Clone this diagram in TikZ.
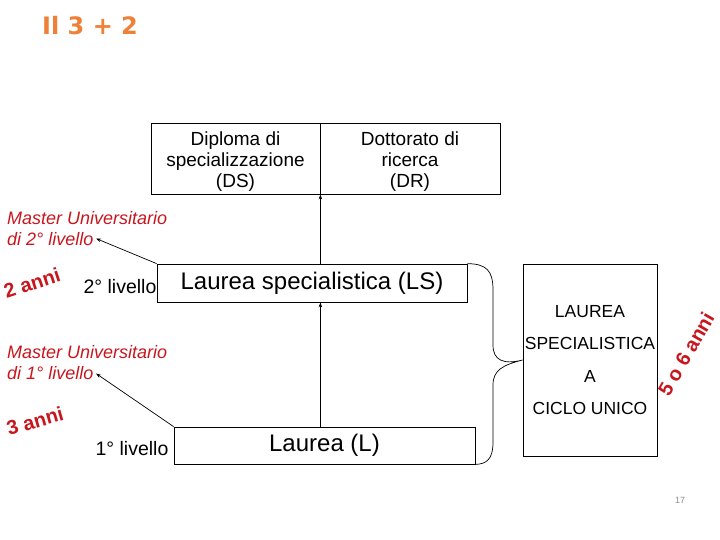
\documentclass[tikz,border=0pt]{standalone}
\usepackage{fontspec}
\setmainfont{Liberation Sans}
\newfontfamily\titlefont{DejaVu Sans}
\usetikzlibrary{arrows.meta}
\definecolor{titleorange}{RGB}{238,128,56}
\definecolor{mred}{RGB}{200,22,30}
\definecolor{pgray}{RGB}{140,140,140}
\tikzset{
  box/.style={draw, line width=0.8pt, inner sep=0pt, align=center},
  mastertext/.style={anchor=base west, inner sep=0pt, align=left, text=mred, font=\fontsize{18}{21}\selectfont\itshape},
  annitext/.style={inner sep=0pt, text=mred, font=\fontsize{20}{24}\selectfont\bfseries},
  livtext/.style={inner sep=0pt, font=\fontsize{19.5}{22}\selectfont},
  conn/.style={line width=0.7pt},
  uparrow/.style={conn, -{Stealth[length=5pt,width=3.5pt]}},
}
\begin{document}
\begin{tikzpicture}[x=1pt,y=-1pt]
\useasboundingbox (0,0) rectangle (720,540);
% title
\node[anchor=base west, inner sep=0pt, text=titleorange, font=\titlefont\bfseries\fontsize{24}{28}\selectfont] (title) at (42,35) {Il 3 + 2};
% top boxes
\node[box, minimum width=169pt, minimum height=71pt] (DS) at (235.5,158.5) {};
\node[box, minimum width=180pt, minimum height=71pt] (DR) at (410,158.5) {};
\node[inner sep=0pt, align=center, font=\fontsize{19}{21}\selectfont] (DStext) at ([yshift=-3pt]DS.center) {Diploma di\\specializzazione\\(DS)};
\node[inner sep=0pt, align=center, font=\fontsize{19}{21}\selectfont] (DRtext) at ([yshift=-3pt]DR.center) {Dottorato di\\ricerca\\(DR)};
\draw[line width=1.8pt] (DS.north east) -- (DS.south east);
% LS and L
\node[box, minimum width=310pt, minimum height=38pt, font=\fontsize{24}{28}\selectfont] (LS) at (312,283) {Laurea specialistica (LS)};
\node[box, minimum width=301pt, minimum height=37pt, font=\fontsize{24}{28}\selectfont] (L) at (324.5,445.5) {Laurea (L)};
% big box
\node[box, minimum width=134pt, minimum height=192pt, font=\fontsize{17.5}{32.5}\selectfont] (CU) at (590,360) {LAUREA\\SPECIALISTICA\\A\\CICLO UNICO};
% vertical connectors
\draw[uparrow] (LS.north -| DS.east) -- (DS.south east);
\draw[uparrow] (L.north -| DS.east) -- (LS.south -| DS.east);
% livello labels
\node[livtext] (liv2) at (120,287) {2° livello};
\node[livtext] (liv1) at (132,449) {1° livello};
% master texts
\node[mastertext] (M2) at (7,245.5) {Master Universitario\\di 2° livello};
\coordinate (M2end) at (96,238.5);
\node[mastertext] (M1) at (7,379.5) {Master Universitario\\di 1° livello};
\coordinate (M1end) at (96,373.5);
\draw[uparrow] (LS.north west) -- (M2end);
\draw[uparrow] (L.north west) -- (M1end);
% anni labels
\node[annitext, rotate=18] (anni2) at (32,283) {2 anni};
\node[annitext, rotate=16] (anni3) at (35,421) {3 anni};
\node[annitext, rotate=60] (anni56) at (686,354) {5 o 6 anni};
% brace
\coordinate (bt) at (LS.north east);
\coordinate (bb) at (L.south east);
\coordinate (tip) at (CU.west);
\draw[line width=0.7pt] (bt) .. controls (486,264) and (493,270) .. (493,290) -- (493,345)
  .. controls (493,360) and (503,365) .. (tip)
  .. controls (503,365) and (493,370) .. (493,385) -- (493,442)
  .. controls (493,460) and (486,464) .. (bb);
% page number
\node[inner sep=0pt, text=pgray, font=\fontsize{9}{10}\selectfont] (pn) at (680,500) {17};
\end{tikzpicture}
\end{document}
